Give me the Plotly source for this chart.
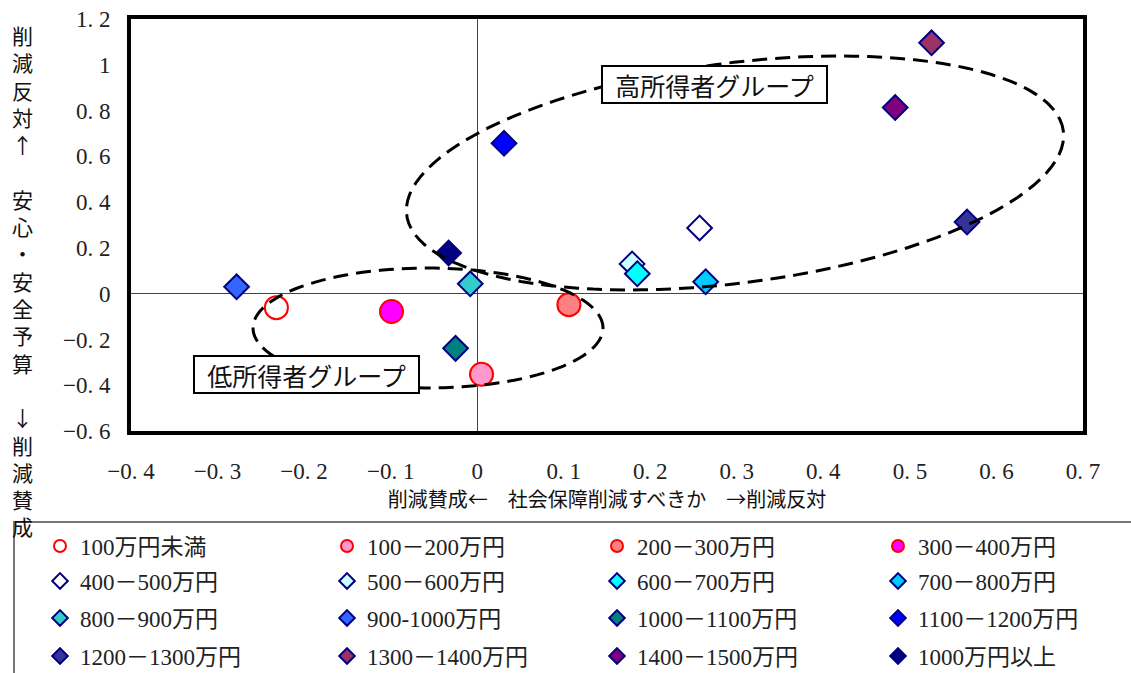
import numpy as np
import plotly.graph_objects as go

# ---------------- data ----------------
names = ["100万円未満", "100－200万円", "200－300万円", "300－400万円",
         "400－500万円", "500－600万円", "600－700万円", "700－800万円",
         "800－900万円", "900-1000万円", "1000－1100万円", "1100－1200万円",
         "1200－1300万円", "1300－1400万円", "1400－1500万円", "1000万円以上"]
x_vals = [-0.232, 0.005, 0.106, -0.099,
          0.257, 0.179, 0.185, 0.264,
          -0.008, -0.278, -0.025, 0.031,
          0.566, 0.525, 0.483, -0.033]
y_vals = [-0.061, -0.352, -0.048, -0.078,
          0.287, 0.130, 0.087, 0.052,
          0.043, 0.030, -0.239, 0.657,
          0.313, 1.096, 0.813, 0.178]
fills = ["#FFFFFF", "#FF99CC", "#FF8080", "#FF00FF",
         "#FFFFFF", "#CCFFFF", "#00FFFF", "#00CCFF",
         "#33CCCC", "#3366FF", "#008080", "#0000FF",
         "#333399", "#993366", "#800080", "#000080"]
x_ticks = [-0.4, -0.3, -0.2, -0.1, 0, 0.1, 0.2, 0.3, 0.4, 0.5, 0.6, 0.7]
x_ticktext = ["−0. 4", "−0. 3", "−0. 2", "−0. 1", "0", "0. 1", "0. 2", "0. 3", "0. 4", "0. 5", "0. 6", "0. 7"]
y_ticks = [-0.6, -0.4, -0.2, 0, 0.2, 0.4, 0.6, 0.8, 1.0, 1.2]
y_ticktext = ["−0. 6", "−0. 4", "−0. 2", "0", "0. 2", "0. 4", "0. 6", "0. 8", "1", "1. 2"]
x_title = "削減賛成←　社会保障削減すべきか　→削減反対"
y_title_chars = ["削", "減", "反", "対", "↑", " ", "安", "心", "・", "安", "全", "予", "算", " ",
                 "↓", "削", "減", "賛", "成"]
group_labels = ["高所得者グループ", "低所得者グループ"]

# ---------------- layout geometry ----------------
W, H = 1131, 673
ML, MR, MT, MB = 131, 48, 19, 242
PW, PH = W - ML - MR, H - MT - MB
XR = [-0.4, 0.7]
YR = [-0.6, 1.2]
SX = PW / (XR[1] - XR[0])   # px per x unit
SY = PH / (YR[1] - YR[0])   # px per y unit


def px_to_paper_x(px):
    return (px - ML) / PW


def px_to_paper_y(py):
    return (H - MB - py) / PH


def ellipse_path(cx, cy, a_px, b_px, theta_deg, n=120):
    th = np.deg2rad(theta_deg)
    t = np.linspace(0, 2 * np.pi, n)
    dx = a_px * np.cos(t) * np.cos(th) - b_px * np.sin(t) * np.sin(th)
    dy = a_px * np.cos(t) * np.sin(th) + b_px * np.sin(t) * np.cos(th)
    xs = cx + dx / SX
    ys = cy + dy / SY
    pts = [f"{x:.5f},{y:.5f}" for x, y in zip(xs, ys)]
    return "M " + " L ".join(pts) + " Z"


serif = "Times New Roman, Liberation Serif, Noto Sans CJK JP, serif"
sans = "Noto Sans CJK JP, sans-serif"

fig = go.Figure()
for i, (n, xv, yv) in enumerate(zip(names, x_vals, y_vals)):
    is_circle = i < 4
    fig.add_trace(go.Scatter(
        x=[xv], y=[yv], mode="markers", name=n,
        marker=dict(symbol="circle" if is_circle else "diamond",
                    size=23 if is_circle else 19,
                    color=fills[i],
                    line=dict(color="#FF0000" if is_circle else "#000080", width=2)),
        legend="legend" if i == 0 else f"legend{i + 1}",
        hoverinfo="x+y+name",
    ))

# legends: one per item placed in a 4x4 grid
col_px = [62, 349, 619, 900]
row_px = [546, 581, 618, 656]
legend_layouts = {}
for i in range(len(names)):
    r, c = divmod(i, 4)
    key = "legend" if i == 0 else f"legend{i + 1}"
    legend_layouts[key] = dict(
        x=px_to_paper_x(col_px[c] - 22), y=px_to_paper_y(row_px[r]),
        xanchor="left", yanchor="middle", orientation="h",
        bgcolor="rgba(0,0,0,0)", borderwidth=0, itemsizing="constant",
        font=dict(family=serif, size=23, color="#222"),
    )

shapes = [
    dict(type="path", xref="x", yref="y",
         path=ellipse_path((735 - ML) / SX + XR[0], YR[1] - (173 - MT) / SY, 331, 110, 7.3),
         line=dict(color="black", width=3, dash="15px,8px")),
    dict(type="path", xref="x", yref="y",
         path=ellipse_path((428 - ML) / SX + XR[0], YR[1] - (328 - MT) / SY, 175, 60, 0),
         line=dict(color="black", width=3, dash="15px,8px")),
    dict(type="rect", xref="paper", yref="paper",
         x0=px_to_paper_x(14), x1=px_to_paper_x(1145),
         y0=px_to_paper_y(690), y1=px_to_paper_y(522),
         line=dict(color="#777", width=2), fillcolor="rgba(0,0,0,0)"),
]

annotations = [
    dict(x=0.274, y=0.915, xref="x", yref="y", text=group_labels[0], showarrow=False,
         font=dict(family=sans, size=25, color="#111"), bgcolor="white",
         bordercolor="black", borderwidth=2, borderpad=1, width=221, height=33),
    dict(x=-0.197, y=-0.355, xref="x", yref="y", text=group_labels[1], showarrow=False,
         font=dict(family=sans, size=25, color="#111"), bgcolor="white",
         bordercolor="black", borderwidth=2, borderpad=1, width=221, height=33),
    dict(x=px_to_paper_x(22), y=px_to_paper_y(280), xref="paper", yref="paper",
         text="<br>".join(y_title_chars), showarrow=False, xanchor="center", yanchor="middle",
         font=dict(family=sans, size=21, color="#111")),
]

fig.update_layout(
    width=W, height=H,
    margin=dict(l=ML, r=MR, t=MT, b=MB, autoexpand=False),
    paper_bgcolor="white", plot_bgcolor="white",
    showlegend=True,
    shapes=shapes, annotations=annotations,
    **legend_layouts,
)
fig.update_xaxes(range=XR, tickvals=x_ticks, ticktext=x_ticktext,
                 showgrid=False, zeroline=True, zerolinecolor="#444", zerolinewidth=1,
                 showline=True, mirror=True, linecolor="black", linewidth=4,
                 ticks="", ticklabelstandoff=16,
                 tickfont=dict(family=serif, size=23, color="#222"),
                 title=dict(text=x_title, standoff=8, font=dict(family=sans, size=20, color="#111")))
fig.update_yaxes(range=YR, tickvals=y_ticks, ticktext=y_ticktext,
                 showgrid=False, zeroline=True, zerolinecolor="#444", zerolinewidth=1,
                 showline=True, mirror=True, linecolor="black", linewidth=4,
                 ticks="", ticklabelstandoff=12,
                 tickfont=dict(family=serif, size=23, color="#222"))

fig.write_html("out.html", config={"displayModeBar": False},
               post_script="document.body.style.margin='0px';")
